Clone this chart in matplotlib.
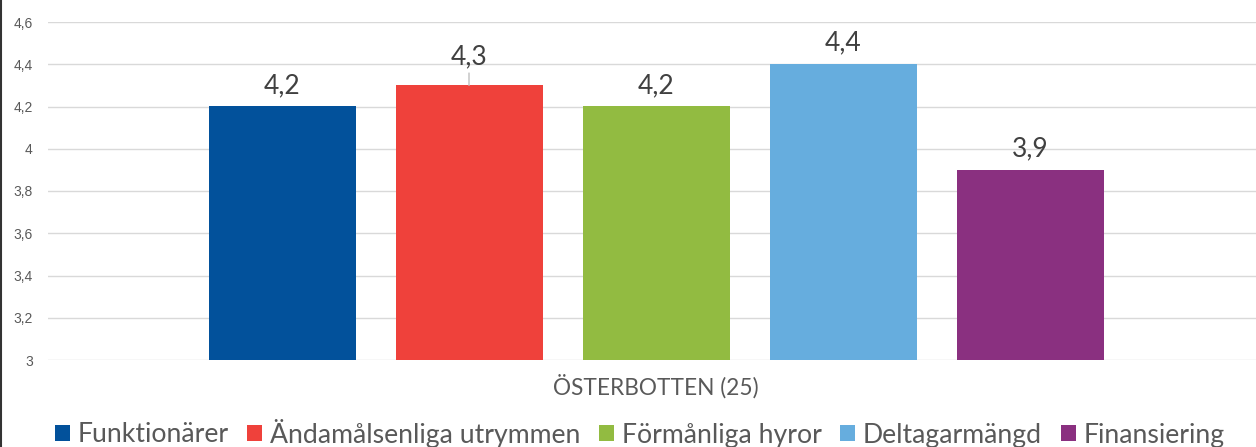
import matplotlib
matplotlib.use("Agg")
import matplotlib.pyplot as plt
from matplotlib.lines import Line2D

series = ["Funktionärer", "Ändamålsenliga utrymmen", "Förmånliga hyror", "Deltagarmängd", "Finansiering"]
values = [4.2, 4.3, 4.2, 4.4, 3.9]
value_labels = ["4,2", "4,3", "4,2", "4,4", "3,9"]
colors = ["#02519B", "#EF413B", "#92BB41", "#66ADDE", "#8A3080"]
category = "ÖSTERBOTTEN (25)"
yticks = [3.0, 3.2, 3.4, 3.6, 3.8, 4.0, 4.2, 4.4, 4.6]
ytick_labels = ["3", "3,2", "3,4", "3,6", "3,8", "4", "4,2", "4,4", "4,6"]

W, H = 1256, 447
PT = 72 / 100  # points per pixel
fig = plt.figure(figsize=(W / 100, H / 100), dpi=100)
ax = fig.add_axes([48 / W, 87 / H, 1216 / W, 338 / H])

spacing = 187 / 1216
width = 147 / 1216
bars = []
for i, (s, v, c) in enumerate(zip(series, values, colors)):
    x = (i - 2) * spacing
    b = ax.bar(x, v - 3.0, bottom=3.0, width=width, color=c, label=s, zorder=3)
    bars.append(b)

ax.set_xlim(-0.5, 0.5)
ax.set_ylim(3.0, 4.6)
ax.set_yticks(yticks)
ax.set_yticklabels(ytick_labels, fontsize=10, color="#595959", family="Liberation Sans")
ax.tick_params(axis="y", length=0, pad=11)
ax.set_xticks([0])
ax.set_xticklabels([category], fontsize=16.3, color="#595959", family="Lato")
ax.tick_params(axis="x", length=0, pad=10)
ax.grid(axis="y", color="#d9d9d9", linewidth=1, zorder=0)
for sp in ax.spines.values():
    sp.set_visible(False)

# data labels
for i, (v, lab) in enumerate(zip(values, value_labels)):
    x = (i - 2) * spacing
    if i == 1:
        ax.annotate(lab, xy=(x, v), xytext=(0, 29 * PT), textcoords="offset points",
                    ha="center", va="center", fontsize=19, color="#404040", family="Lato",
                    arrowprops=dict(arrowstyle="-", color="#bfbfbf", lw=1, shrinkA=1, shrinkB=0))
    else:
        ax.annotate(lab, xy=(x, v), xytext=(0, 21 * PT), textcoords="offset points",
                    ha="center", va="center", fontsize=19, color="#404040", family="Lato")

leg = fig.legend(handles=[b[0] for b in bars], labels=series, loc="center left",
                 bbox_to_anchor=(55 / W, 1 - 433 / H), ncol=5, frameon=False,
                 prop={"family": "Lato", "size": 19.2},
                 handlelength=0.55, handleheight=0.55, handletextpad=0.3,
                 columnspacing=0.7, borderaxespad=0, borderpad=0)
for t in leg.get_texts():
    t.set_color("#595959")

fig.add_artist(Line2D([0.5 / W, 0.5 / W], [0, 1], transform=fig.transFigure, color="#333333", lw=1.5))

fig.savefig("out.png", dpi=100)
